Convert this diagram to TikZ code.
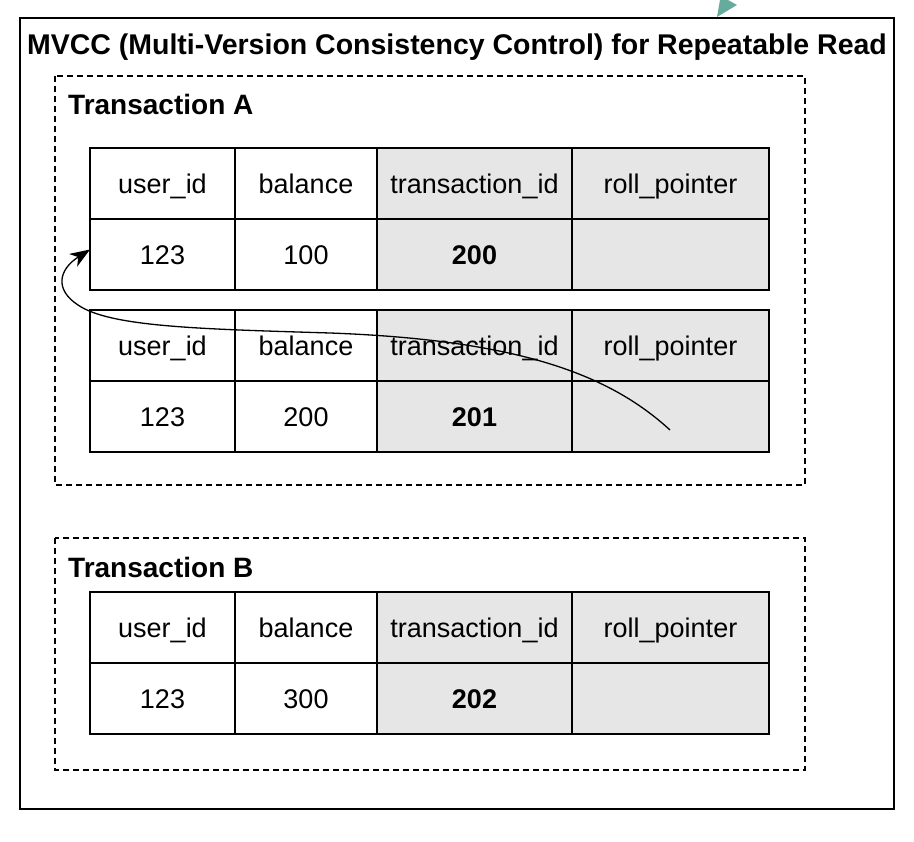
\documentclass[tikz,border=0pt]{standalone}
\usepackage{fontspec}
\setmainfont{Liberation Sans}
\usetikzlibrary{arrows.meta}
\definecolor{cellgray}{HTML}{E6E6E6}
\definecolor{teal}{HTML}{67AB9F}
\tikzset{
  cell/.style={draw=black, line width=1.4pt, inner sep=0pt, outer sep=0pt, anchor=north west,
    text height=26pt, text depth=6pt, font=\fontsize{27}{30}\selectfont},
  graycell/.style={cell, fill=cellgray},
  framebox/.style={draw=black, line width=1.4pt},
  groupbox/.style={draw=black, line width=1.3pt, dash pattern=on 6pt off 4pt},
  titletext/.style={font=\fontsize{28.5}{32}\selectfont\bfseries, inner sep=0pt},
  grouptext/.style={font=\fontsize{28}{32}\selectfont\bfseries, inner sep=0pt, anchor=base west},
  pointer/.style={draw=black, line width=1.3pt, -{Stealth[length=20pt,width=15pt,inset=6pt]}}
}
\newcommand\mvtable[4]{%
  \node[cell, minimum width=145pt, minimum height=71pt] (#1ha) at (90,#2) {user\_id};
  \node[cell, minimum width=142pt, minimum height=71pt] (#1hb) at (235,#2) {balance};
  \node[graycell, minimum width=195pt, minimum height=71pt] (#1hc) at (377,#2) {transaction\_id};
  \node[graycell, minimum width=197pt, minimum height=71pt] (#1hd) at (572,#2) {roll\_pointer};
  \node[cell, minimum width=145pt, minimum height=71pt] (#1ra) at (#1ha.south west) {123};
  \node[cell, minimum width=142pt, minimum height=71pt] (#1rb) at (#1hb.south west) {#3};
  \node[graycell, minimum width=195pt, minimum height=71pt] (#1rc) at (#1hc.south west) {\bfseries #4};
  \node[graycell, minimum width=197pt, minimum height=71pt] (#1rd) at (#1hd.south west) {};
}
\begin{document}
\begin{tikzpicture}[x=1pt,y=-1pt]
\useasboundingbox (0,0) rectangle (914,842);
% outer frame
\draw[framebox] (20,18) rectangle (894,809);
\node[titletext, anchor=base] (title) at (457,55) {MVCC (Multi-Version Consistency Control) for Repeatable Read};
% teal arrowhead (cut off at top)
\fill[teal] (717,17) -- (720,0) -- (728,0) -- (737,5) -- cycle;
% group boxes
\draw[groupbox] (55,76) rectangle (805,485);
\node[grouptext] (ga) at (68,115) {Transaction A};
\draw[groupbox] (55,538) rectangle (805,770);
\node[grouptext] (gb) at (68,577) {Transaction B};
% tables
\mvtable{p}{148}{100}{200}
\mvtable{q}{310}{200}{201}
\mvtable{s}{592}{300}{202}
% roll pointer curve
\coordinate (ptrstart) at (670,430);
\coordinate (ptrend) at ([yshift=5pt]pra.west);
\draw[pointer] (ptrstart) .. controls (610,375) and (520,340) .. (330,333)
  .. controls (200,329) and (110,327) .. (78,305)
  .. controls (55,290) and (58,270) .. (ptrend);
\end{tikzpicture}
\end{document}
